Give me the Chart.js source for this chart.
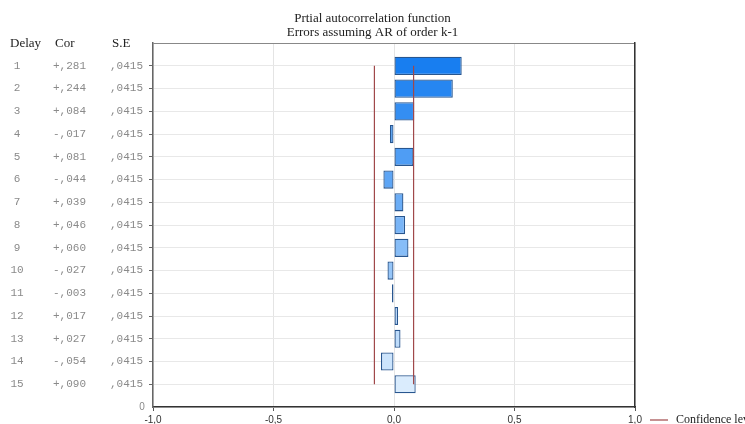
<!DOCTYPE html>
<html lang="en">
<head>
  <meta charset="UTF-8">
  <title>Partial autocorrelation function</title>
  <script src="https://cdn.jsdelivr.net/npm/chart.js"></script>
  <style>
    html, body {
      margin: 0;
      padding: 0;
      background: #ffffff;
    }
    #wrap {
      width: 745px;
      height: 424px;
    }
  </style>
</head>
<body>

  <div id="wrap"><canvas id="pacfChart"></canvas></div>

  <script>
    // lags 1..15, partial autocorrelations and their standard errors
    const delays = [1, 2, 3, 4, 5, 6, 7, 8, 9, 10, 11, 12, 13, 14, 15];
    const corValues = [0.281, 0.244, 0.084, -0.017, 0.081, -0.044, 0.039, 0.046, 0.060, -0.027, -0.003, 0.017, 0.027, -0.054, 0.090];
    const seValues = [0.0415, 0.0415, 0.0415, 0.0415, 0.0415, 0.0415, 0.0415, 0.0415, 0.0415, 0.0415, 0.0415, 0.0415, 0.0415, 0.0415, 0.0415];
    const confLimit = 0.0813;
    const xTicks = [-1.0, -0.5, 0.0, 0.5, 1.0];

    // bar fill goes from saturated blue (lag 1) to pale blue (lag 15)
    const darkBlue = [24, 126, 240];
    const paleBlue = [218, 236, 253];
    const barColors = delays.map((d, i) => {
      const t = i / (delays.length - 1);
      const c = darkBlue.map((v, j) => Math.round(v + (paleBlue[j] - v) * t));
      return 'rgb(' + c.join(',') + ')';
    });

    const fmtCor = v => (v < 0 ? '-' : '+') + ',' + String(Math.round(Math.abs(v) * 1000)).padStart(3, '0');
    const fmtSe = v => ',' + v.toFixed(4).slice(2);
    const fmtTick = v => v.toFixed(1).replace('.', ',');

    // the Delay / Cor / S.E table on the left and the legend at the bottom right
    const tablePlugin = {
      id: 'tablePlugin',
      afterDraw(chart) {
        const c = chart.ctx;
        const y = chart.scales.y;
        c.save();
        c.fillStyle = '#222';
        c.font = '13px "Liberation Serif", serif';
        c.textBaseline = 'middle';
        c.textAlign = 'left';
        c.fillText('Delay', 10, 44);
        c.fillText('Cor', 55, 44);
        c.fillText('S.E', 112, 44);

        c.font = '11px "Liberation Mono", monospace';
        c.fillStyle = '#8a8a8a';
        delays.forEach((d, i) => {
          const py = y.getPixelForValue(d);
          c.textAlign = 'center';
          c.fillText(String(d), 17, py);
          c.textAlign = 'left';
          c.fillText(fmtCor(corValues[i]), 53, py);
          c.fillText(fmtSe(seValues[i]), 110, py);
        });
        c.textAlign = 'center';
        c.font = '10px "Liberation Sans", sans-serif';
        c.fillText('0', 142, y.getPixelForValue(16));

        // legend
        const ly = 420;
        c.strokeStyle = '#a0484a';
        c.lineWidth = 1.2;
        c.beginPath();
        c.moveTo(650, ly);
        c.lineTo(668, ly);
        c.stroke();
        c.fillStyle = '#222';
        c.textAlign = 'left';
        c.font = '12px "Liberation Serif", serif';
        c.fillText('Confidence level', 676, ly);
        c.restore();
      }
    };

    const ctx = document.getElementById('pacfChart').getContext('2d');
    new Chart(ctx, {
      type: 'bar',
      data: {
        datasets: [
          {
            type: 'bar',
            label: 'Cor',
            data: delays.map((d, i) => ({ x: corValues[i], y: d })),
            backgroundColor: barColors,
            borderColor: '#28568f',
            borderWidth: 1.3,
            borderSkipped: false,
            inflateAmount: 0,
            minBarLength: 2,
            categoryPercentage: 0.8,
            barPercentage: 1.0,
            order: 2
          },
          {
            type: 'line',
            label: 'Confidence level',
            data: [{ x: -confLimit, y: delays[0] }, { x: -confLimit, y: delays[delays.length - 1] }],
            borderColor: '#a0484a',
            borderWidth: 1.2,
            pointRadius: 0,
            fill: false,
            order: 1
          },
          {
            type: 'line',
            label: 'Confidence level',
            data: [{ x: confLimit, y: delays[0] }, { x: confLimit, y: delays[delays.length - 1] }],
            borderColor: '#a0484a',
            borderWidth: 1.2,
            pointRadius: 0,
            fill: false,
            order: 1
          }
        ]
      },
      options: {
        indexAxis: 'y',
        responsive: true,
        maintainAspectRatio: false,
        animation: false,
        layout: { padding: 0 },
        plugins: {
          legend: { display: false },
          tooltip: { enabled: false },
          title: {
            display: true,
            text: ['Prtial autocorrelation function', 'Errors assuming AR of order k-1'],
            color: '#222',
            font: { family: '"Liberation Serif", serif', size: 13, weight: 'normal', lineHeight: 1.1 },
            padding: { top: 11, bottom: 3.5 }
          }
        },
        scales: {
          x: {
            type: 'linear',
            position: 'bottom',
            min: -1,
            max: 1,
            afterBuildTicks: s => { s.ticks = xTicks.map(v => ({ value: v })); },
            afterFit: s => { s.height = 17; },
            ticks: {
              callback: v => fmtTick(v),
              color: '#333',
              font: { family: '"Liberation Sans", sans-serif', size: 10 },
              padding: 3,
              maxRotation: 0
            },
            grid: { color: '#e4e4e4', tickColor: '#555', tickLength: 4 },
            border: { color: '#333', width: 1.5 }
          },
          y: {
            type: 'linear',
            position: 'left',
            reverse: true,
            offset: false,
            min: 0,
            max: 16,
            ticks: { display: false, stepSize: 1 },
            afterFit: s => { s.width = 153; },
            grid: {
              offset: false,
              color: ctx => ctx.tick && ctx.tick.value === 0 ? '#888' : '#e8e8e8',
              tickColor: ctx => ctx.tick && (ctx.tick.value === 0 || ctx.tick.value === 16) ? 'rgba(0,0,0,0)' : '#666',
              tickLength: 4
            },
            border: { color: '#666', width: 1.5 }
          },
          y2: {
            type: 'linear',
            position: 'right',
            reverse: true,
            offset: false,
            min: 0,
            max: 16,
            ticks: { display: false, stepSize: 1 },
            afterFit: s => { s.width = 110; },
            grid: { offset: false, drawOnChartArea: false, drawTicks: false },
            border: { color: '#333', width: 1.5 }
          }
        }
      },
      plugins: [tablePlugin]
    });
  </script>

</body>
</html>
